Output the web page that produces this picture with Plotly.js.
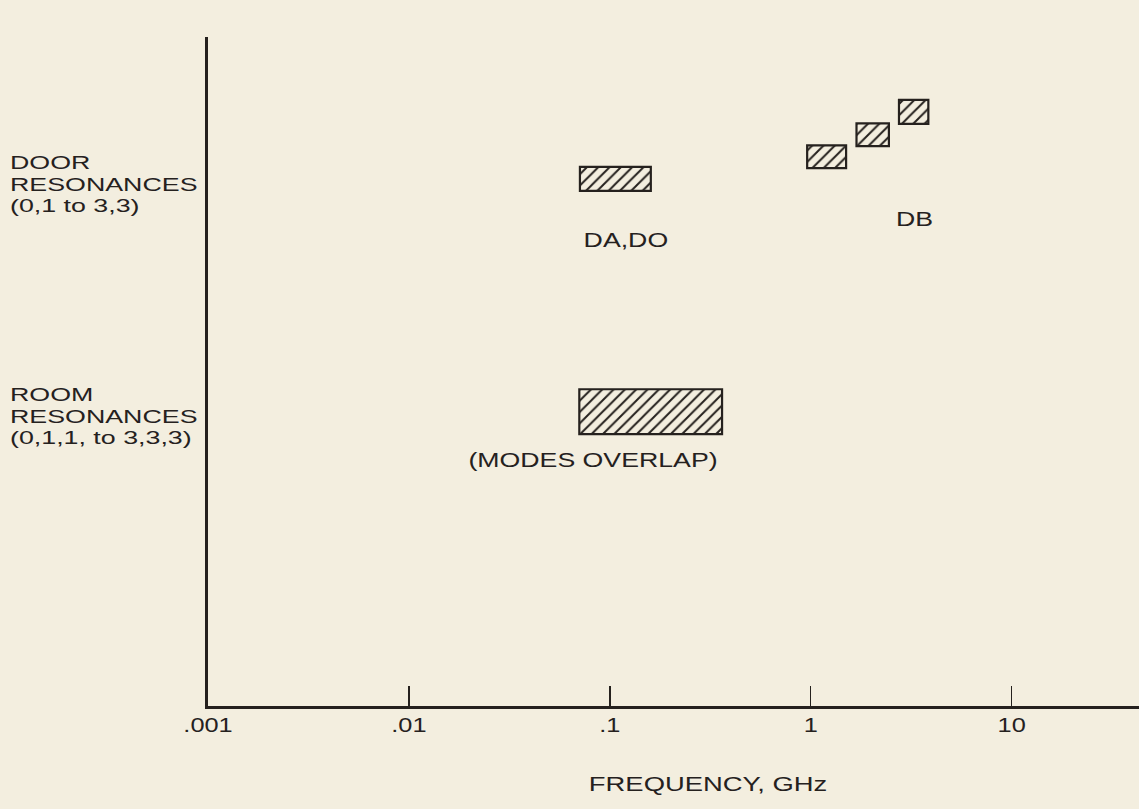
<!DOCTYPE html>
<html>
<head>
<meta charset="utf-8">
<script src="https://cdn.plot.ly/plotly-3.0.1.min.js"></script>
<style>
  html, body { margin: 0; padding: 0; background: #f3eedf; }
  #chart { width: 1139px; height: 809px; }
</style>
</head>
<body>
<div id="chart"></div>
<script>
// ---- data ----
const bandNames = ["DA,DO", "DB (0,1)", "DB (1,1)", "DB (2,2)", "ROOM"];
const freqLow  = [0.071, 0.96, 1.69, 2.75, 0.0705];  // GHz
const freqHigh = [0.160, 1.50, 2.45, 3.85, 0.362];   // GHz
const rowLevel = [78.8, 82.1, 85.4, 88.8, 44.0];     // vertical row level
const rowSpan  = [3.6, 3.4, 3.4, 3.6, 6.7];
const tickVals = [0.001, 0.01, 0.1, 1, 10];
const tickText = [".001", ".01", ".1", "1", "10"];
const groupLines = [["DOOR", "RESONANCES", "(0,1 to 3,3)"],
                    ["ROOM", "RESONANCES", "(0,1,1, to 3,3,3)"]];
const groupLevel = [78.0, 43.3];
const bandTexts = ["DA,DO", "DB", "(MODES OVERLAP)"];
const bandTextFreq = [0.1205, 3.30, 0.0824];
const bandTextLevel = [69.7, 72.8, 36.8];
const xTitle = "FREQUENCY, GHz";

const INK = "#25211e";
const BG = "#f3eedf";
const FONT = "Liberation Sans, Arial, sans-serif";
const FS = 19.5;
const GROUP_FS = 19;
const LINE_PX = 21.5;   // line pitch of the row labels

const trace = {
  type: "bar",
  orientation: "h",
  y: rowLevel,
  base: freqLow,
  x: freqHigh.map((h, i) => h - freqLow[i]),
  width: rowSpan,
  text: bandNames,
  hoverinfo: "text",
  textposition: "none",
  marker: {
    color: BG,
    line: { color: INK, width: 2.2 },
    pattern: { shape: "/", fgcolor: INK, bgcolor: BG, size: 8, solidity: 0.25 }
  },
  showlegend: false
};

const annotations = [];
groupLines.forEach((lines, i) => annotations.push({
  text: lines.join("<br>"), xref: "paper", yref: "y", x: 0, y: groupLevel[i],
  xanchor: "left", yanchor: "middle", align: "left", xshift: -200,
  showarrow: false, font: { family: FONT, size: GROUP_FS, color: INK }
}));
bandTexts.forEach((t, i) => annotations.push({
  text: t, xref: "x", yref: "y", x: Math.log10(bandTextFreq[i]), y: bandTextLevel[i],
  xanchor: "center", yanchor: "middle", showarrow: false,
  font: { family: FONT, size: FS, color: INK }
}));
annotations.push({
  text: xTitle, xref: "paper", yref: "paper", x: 0.5, y: 0,
  xanchor: "center", yanchor: "middle", yshift: -78, xshift: 34,
  showarrow: false, font: { family: FONT, size: 20, color: INK }
});

const layout = {
  width: 1139, height: 809,
  paper_bgcolor: BG, plot_bgcolor: BG,
  margin: { l: 208, r: 0, t: 37, b: 103 },
  bargap: 0,
  xaxis: {
    type: "log", range: [-3, 1.634],
    tickvals: tickVals, ticktext: tickText,
    ticks: "inside", ticklen: 20, tickwidth: 1.5, tickcolor: INK,
    showline: true, linecolor: INK, linewidth: 2.6,
    showgrid: false, zeroline: false,
    tickfont: { family: FONT, size: FS, color: INK },
    fixedrange: true
  },
  yaxis: {
    range: [0, 100], showticklabels: false, ticks: "",
    showline: true, linecolor: INK, linewidth: 2.6,
    showgrid: false, zeroline: false, fixedrange: true
  },
  annotations: annotations
};

// set the line pitch of multi-line labels and widen the lettering
function restyleText(gd) {
  const stretch = (el, s) => {
    const t = el.getAttribute("transform") || "";
    const x = parseFloat(el.getAttribute("x")) || 0;
    el.setAttribute("transform", `${t} translate(${x},0) scale(${s},1) translate(${-x},0)`);
  };
  gd.querySelectorAll("text.annotation-text").forEach(el => {
    const lines = el.querySelectorAll("tspan.line");
    if (lines.length > 1) {
      const fs = parseFloat(el.style.fontSize) || GROUP_FS;
      const n = lines.length;
      const off = (n - 1) * (1.3 * fs - LINE_PX) / 2;
      lines.forEach(ts => {
        const idx = Math.round(parseFloat(ts.getAttribute("dy") || "0") / 1.3);
        ts.setAttribute("dy", (idx * LINE_PX + off) + "px");
      });
      stretch(el, 1.41);
    } else {
      stretch(el, 1.37);
    }
  });
  gd.querySelectorAll(".xtick text").forEach(el => stretch(el, 1.3));
}

const gd = document.getElementById("chart");
Plotly.newPlot(gd, [trace], layout, { displayModeBar: false, staticPlot: true })
  .then(() => restyleText(gd));
</script>
</body>
</html>
